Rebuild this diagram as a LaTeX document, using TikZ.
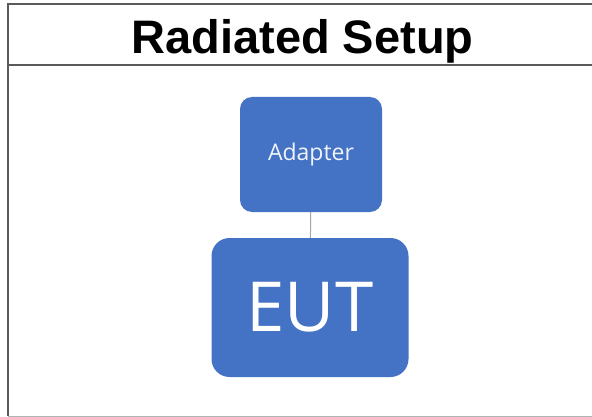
\documentclass[tikz,border=0pt]{standalone}
\usepackage{fontspec}
\setmainfont{Liberation Sans}
\newfontfamily\boxfont{Open Sans}
\usetikzlibrary{positioning}
\definecolor{boxblue}{HTML}{4472C4}
\definecolor{linkgray}{HTML}{A5A5A5}
\definecolor{framegray}{HTML}{5A5A5A}

\tikzset{
  unitbox/.style={fill=boxblue, draw=none, text=white, font=\boxfont, inner sep=0pt},
  frameline/.style={draw=framegray, line width=2pt}
}

\begin{document}
\begin{tikzpicture}[x=1pt,y=-1pt]
\useasboundingbox (0,0) rectangle (592,417);
\fill[white] (0,0) rectangle (592,417);
\coordinate (tl) at (8,4);
\coordinate (tr) at (593,4);
\coordinate (bl) at (8,416);
\coordinate (br) at (593,416);
\coordinate (ml) at (8,65);
\coordinate (mr) at (593,65);
\draw[frameline] (bl) -- (tl) -- (tr);
\draw[frameline] (ml) -- (mr);
\draw[black!30, line width=1pt] (bl) -- (br);
\node[anchor=base, font=\bfseries\fontsize{47}{47}\selectfont] (title) at (302.5,54) {Radiated Setup};
\node[unitbox, rounded corners=12pt, minimum width=142pt, minimum height=115pt,
  text=white!92!boxblue, font=\boxfont\fontsize{23}{23}\selectfont] (adapter) at (311,154.5) {Adapter};
\node[unitbox, rounded corners=18pt, minimum width=197pt, minimum height=139pt,
  font=\boxfont\fontsize{69}{69}\selectfont] (eut) at (310,307.5) {EUT};
\draw[linkgray, line width=1pt] (adapter) -- (eut);
\end{tikzpicture}
\end{document}
